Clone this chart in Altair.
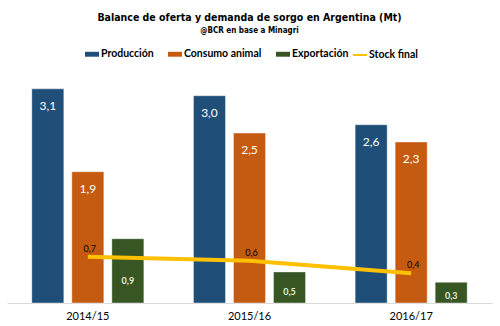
import altair as alt
import pandas as pd

categorias = ["2014/15", "2015/16", "2016/17"]
produccion = [3.1, 3.0, 2.58]
consumo = [1.9, 2.46, 2.33]
exportacion = [0.93, 0.45, 0.30]
stock = [0.67, 0.61, 0.43]
series = ["Producción", "Consumo animal", "Exportación"]
colores = ["#1F4E79", "#C55A11", "#375623"]
serie_linea = ["Stock final"]
color_linea = ["#FFC000"]

rows = []
for i, c in enumerate(categorias):
    for s, vals in zip(series, [produccion, consumo, exportacion]):
        rows.append({"anio": c, "serie": s, "v": vals[i]})
bars_df = pd.DataFrame(rows)
stock_df = pd.DataFrame({"anio": categorias, "linea": serie_linea[0], "v": stock})

RECT = "M-1,-0.35L1,-0.35L1,0.35L-1,0.35Z"
TFONT = "DejaVu Sans Condensed, Liberation Sans"

x = alt.X("anio:N", scale=alt.Scale(domain=categorias, paddingInner=0, paddingOuter=0),
          axis=alt.Axis(title=None, labelAngle=0, domainColor="#D9D9D9", domainWidth=1,
                        ticks=False, labelFont="Lato", labelFontSize=11, labelColor="#000000",
                        labelPadding=7))
y = alt.Y("v:Q", scale=alt.Scale(domain=[0, 3.3], nice=False, zero=True), axis=None)
xoff = alt.XOffset("serie:N", scale=alt.Scale(domain=series, paddingInner=0.2, paddingOuter=0.62))

bar_legend = alt.Legend(
    orient="none", legendX=78, legendY=-28, direction="horizontal", columns=3, title=None,
    labelFont="Lato", labelFontSize=10.5, labelFontWeight="bold", labelColor="#000000",
    symbolType=RECT, symbolSize=196, symbolOpacity=1, symbolStrokeWidth=0,
    columnPadding=14, labelOffset=2,
)
line_legend = alt.Legend(
    orient="none", legendX=345, legendY=-28, direction="horizontal", title=None,
    labelFont="Lato", labelFontSize=10.5, labelFontWeight="bold", labelColor="#000000",
    symbolType="stroke", symbolSize=196, symbolStrokeWidth=2, symbolOpacity=1, labelOffset=1,
)

base_bars = alt.Chart(bars_df)
bars = base_bars.mark_bar(stroke="#FFFFFF", strokeWidth=0.8, strokeOpacity=0.5).encode(
    x=x, xOffset=xoff, y=y,
    color=alt.Color("serie:N", scale=alt.Scale(domain=series, range=colores), legend=bar_legend),
)
big_labels = base_bars.transform_filter("datum.serie !== 'Exportación'").transform_calculate(
    lab="replace(format(datum.v, '.1f'), '.', ',')"
).mark_text(color="white", font="Lato", fontSize=12, dy=17, baseline="middle").encode(
    x=x, xOffset=xoff, y=y, text="lab:N")
exp_labels = base_bars.transform_filter("datum.serie === 'Exportación'").transform_calculate(
    lab="replace(format(datum.v, '.1f'), '.', ',')", ypos="datum.v * 0.35"
).mark_text(color="#E2EFDA", font="Lato", fontSize=9, fontWeight="bold", baseline="middle").encode(
    x=x, xOffset=xoff, y=alt.Y("ypos:Q", scale=alt.Scale(domain=[0, 3.3], nice=False), axis=None),
    text="lab:N")

line = alt.Chart(stock_df).mark_line(strokeWidth=4).encode(
    x=x, y=y,
    stroke=alt.Stroke("linea:N", scale=alt.Scale(domain=serie_linea, range=color_linea),
                      legend=line_legend))
stock_labels = alt.Chart(stock_df).transform_calculate(
    lab="replace(format(datum.v, '.1f'), '.', ',')"
).mark_text(color="#000000", font="Lato", fontSize=9, dy=-8, dx=2, baseline="middle").encode(
    x=x, y=y, text="lab:N")

chart = alt.layer(bars, big_labels, exp_labels, line, stock_labels).properties(
    width=485, height=228,
    padding={"left": 7, "top": 75, "right": 8, "bottom": 23},
    autosize=alt.AutoSizeParams(type="none"),
    background="white",
    title=alt.Title("Balance de oferta y demanda de sorgo en Argentina (Mt)",
                    subtitle="@BCR en base a Minagri",
                    anchor="middle", font=TFONT, fontSize=10.5, fontWeight="bold",
                    color="#000000", subtitleFont=TFONT, subtitleFontSize=8,
                    subtitleFontWeight="bold", subtitleColor="#000000", subtitlePadding=4,
                    offset=12),
).configure_view(stroke=None)

chart.save("out.html", embed_options={"renderer": "svg", "actions": False})
